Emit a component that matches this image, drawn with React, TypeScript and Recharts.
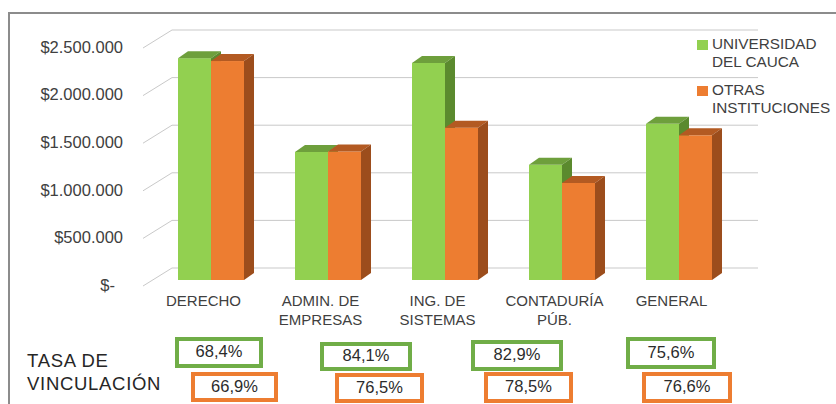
import React from 'react';
import { BarChart, Bar, XAxis, YAxis, CartesianGrid } from 'recharts';

const categories = ['DERECHO', 'ADMIN. DE\nEMPRESAS', 'ING. DE\nSISTEMAS', 'CONTADURÍA\nPÚB.', 'GENERAL'];
const unicauca = [2330000, 1345000, 2280000, 1210000, 1640000];
const otras = [2300000, 1350000, 1600000, 1020000, 1520000];
const yTicks = [0, 500000, 1000000, 1500000, 2000000, 2500000];
const tasaUnicauca = ['68,4%', '84,1%', '82,9%', '75,6%'];
const tasaOtras = ['66,9%', '76,5%', '78,5%', '76,6%'];
const seriesNames = ['UNIVERSIDAD\nDEL CAUCA', 'OTRAS\nINSTITUCIONES'];

const data = categories.map((name, i) => ({ name, u: unicauca[i], o: otras[i] }));

const FONT = '"Liberation Sans", Arial, sans-serif';
const TXT = '#404040';
const GREEN = '#92D050';
const ORANGE = '#ED7D31';
const DEPTH_X = 10;
const DEPTH_Y = 7;

// rough box placement (they were placed by hand in the original)
const greenBoxes = [
  { left: 175, top: 337, width: 88, height: 31 },
  { left: 320, top: 342, width: 92, height: 29 },
  { left: 471, top: 340, width: 92, height: 31 },
  { left: 626, top: 337, width: 90, height: 32 },
];
const orangeBoxes = [
  { left: 191, top: 372, width: 87, height: 30 },
  { left: 335, top: 373, width: 89, height: 30 },
  { left: 484, top: 372, width: 89, height: 31 },
  { left: 642, top: 372, width: 90, height: 31 },
];

const makeBar3D = (front: string, top: string, side: string) => (props: any) => {
  const { x, y, width, height } = props;
  if (height == null || width == null) return null;
  const dx = DEPTH_X;
  const dy = DEPTH_Y;
  return (
    <g>
      <rect x={x} y={y} width={width} height={height} fill={front} />
      <polygon
        points={`${x},${y} ${x + dx},${y - dy} ${x + width + dx},${y - dy} ${x + width},${y}`}
        fill={top}
      />
      <polygon
        points={`${x + width},${y} ${x + width + dx},${y - dy} ${x + width + dx},${y + height - dy} ${x + width},${y + height}`}
        fill={side}
      />
    </g>
  );
};

const GreenBar = makeBar3D(GREEN, '#6E9F3C', '#5B8A2E');
const OrangeBar = makeBar3D(ORANGE, '#B35A22', '#9C4D1C');

const fmtMoney = (v: number) => {
  if (v === 0) return '$-';
  return '$' + v.toString().replace(/\B(?=(\d{3})+(?!\d))/g, '.');
};

const YTick = (props: any) => {
  const { y, payload } = props;
  const zero = payload.value === 0;
  return (
    <text x={zero ? 115 : 123} y={y + 5} dy="0.35em" textAnchor="end" fontSize={16.5} fill={TXT} fontFamily={FONT}>
      {fmtMoney(payload.value)}
    </text>
  );
};

const XTick = (props: any) => {
  const { x, y, payload } = props;
  const lines = String(payload.value).split('\n');
  return (
    <g>
      {lines.map((l, i) => (
        <text key={i} x={x - 7.5} y={y + 24 + i * 19} textAnchor="middle" fontSize={15} fill={TXT} fontFamily={FONT}>
          {l}
        </text>
      ))}
    </g>
  );
};

const gridLine = (props: any) => {
  const { x1, x2, y1, index } = props;
  return (
    <g key={`gl-${index}`}>
      <line x1={x1 - 9.5} y1={y1 + 6} x2={x1 + 19.5} y2={y1 - 12} stroke="#c9c9c9" strokeWidth={1} />
      <line x1={x1 + 19.5} y1={y1 - 12} x2={x2 + 20.5} y2={y1 - 12} stroke="#c9c9c9" strokeWidth={1} />
    </g>
  );
};

const Box = ({ pos, color, text }: { pos: any; color: string; text: string }) => (
  <div
    style={{
      position: 'absolute',
      left: pos.left,
      top: pos.top,
      width: pos.width,
      height: pos.height,
      boxSizing: 'border-box',
      border: `4px solid ${color}`,
      background: '#fff',
      display: 'flex',
      alignItems: 'center',
      justifyContent: 'center',
      fontSize: 16.5,
      color: '#2b2b2b',
      paddingBottom: 2,
    }}
  >
    {text}
  </div>
);

export default function App() {
  const legendColors = [GREEN, ORANGE];
  return (
    <div
      style={{
        position: 'fixed',
        left: 0,
        top: 0,
        width: 836,
        height: 404,
        overflow: 'hidden',
        background: '#fff',
        fontFamily: FONT,
      }}
    >
      <div
        style={{
          position: 'absolute',
          left: 8,
          top: 12,
          width: 900,
          height: 500,
          borderLeft: '2px solid #8c8c8c',
          borderTop: '2px solid #8c8c8c',
        }}
      />
      <div style={{ position: 'absolute', left: 0, top: 0 }}>
        <BarChart
          width={836}
          height={340}
          data={data}
          margin={{ top: 42, right: 98.5, left: 0, bottom: 0 }}
          barCategoryGap="21.8%"
          barGap={0}
        >
          <CartesianGrid vertical={false} horizontal={gridLine} />
          <XAxis
            dataKey="name"
            axisLine={false}
            tickLine={false}
            tickSize={0}
            interval={0}
            height={60}
            tick={<XTick />}
          />
          <YAxis
            width={152.5}
            domain={[0, 2500000]}
            ticks={yTicks}
            axisLine={false}
            tickLine={false}
            tick={<YTick />}
          />
          <Bar dataKey="u" shape={GreenBar} isAnimationActive={false} />
          <Bar dataKey="o" shape={OrangeBar} isAnimationActive={false} />
        </BarChart>
      </div>

      {seriesNames.map((s, i) => (
        <div key={s} style={{ position: 'absolute', left: 697, top: 35 + i * 46 }}>
          <div style={{ position: 'absolute', left: 0, top: 5, width: 11, height: 10, background: legendColors[i] }} />
          {s.split('\n').map((l, j) => (
            <div
              key={j}
              style={{ position: 'absolute', left: 15, top: j * 18, fontSize: 15.3, lineHeight: '18px', color: TXT, whiteSpace: 'nowrap' }}
            >
              {l}
            </div>
          ))}
        </div>
      ))}

      <div
        style={{
          position: 'absolute',
          left: 27,
          top: 349,
          fontSize: 18.5,
          lineHeight: '23px',
          letterSpacing: 0.7,
          color: '#262626',
        }}
      >
        <div>TASA DE</div>
        <div>VINCULACIÓN</div>
      </div>

      {tasaUnicauca.map((t, i) => (
        <Box key={'g' + i} pos={greenBoxes[i]} color="#70AD47" text={t} />
      ))}
      {tasaOtras.map((t, i) => (
        <Box key={'o' + i} pos={orangeBoxes[i]} color={ORANGE} text={t} />
      ))}
    </div>
  );
}
